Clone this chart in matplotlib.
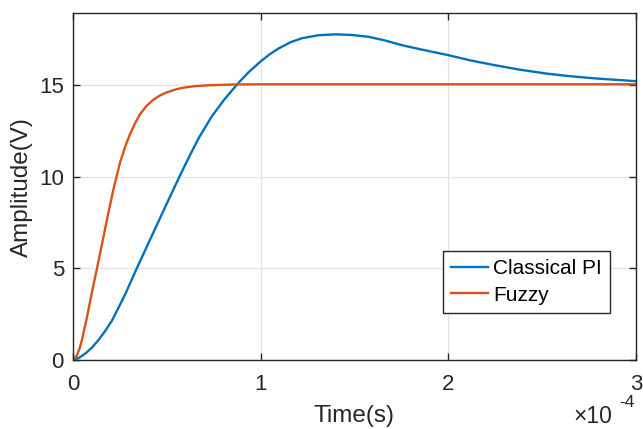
import numpy as np
import matplotlib
matplotlib.use("Agg")
import matplotlib.pyplot as plt
from matplotlib.ticker import FuncFormatter

# time in units of 1e-4 s
t_pi = [0.0, 0.033, 0.066, 0.1, 0.137, 0.17, 0.207, 0.24, 0.278, 0.34,
        0.41, 0.48, 0.567, 0.622, 0.672, 0.74, 0.805, 0.875, 0.935, 1.0,
        1.05, 1.098, 1.16, 1.222, 1.31, 1.4, 1.49, 1.577, 1.66, 1.755,
        1.87, 2.0, 2.12, 2.25, 2.38, 2.52, 2.65, 2.785, 2.9, 3.0]
y_pi = [0.0, 0.12, 0.35, 0.66, 1.1, 1.56, 2.13, 2.8, 3.58, 5.0,
        6.55, 8.1, 10.0, 11.15, 12.15, 13.3, 14.2, 15.05, 15.7, 16.3,
        16.7, 17.02, 17.35, 17.57, 17.73, 17.78, 17.74, 17.64, 17.45, 17.18,
        16.92, 16.64, 16.35, 16.09, 15.85, 15.64, 15.49, 15.37, 15.29, 15.22]

t_fz = [0.0, 0.021, 0.035, 0.048, 0.074, 0.101, 0.128, 0.158, 0.185, 0.214,
        0.25, 0.28, 0.303, 0.33, 0.356, 0.39, 0.427, 0.46, 0.498, 0.55,
        0.587, 0.65, 0.711, 0.853, 0.99, 1.5, 2.0, 2.5, 3.0]
y_fz = [0.0, 0.25, 0.62, 1.1, 2.3, 3.7, 5.0, 6.5, 7.85, 9.25,
        10.75, 11.7, 12.3, 12.9, 13.4, 13.85, 14.2, 14.42, 14.6, 14.78,
        14.86, 14.95, 14.99, 15.04, 15.05, 15.05, 15.05, 15.05, 15.05]

t_pi = np.array(t_pi) * 1e-4
t_fz = np.array(t_fz) * 1e-4

plt.rcParams['font.family'] = ['Liberation Sans', 'DejaVu Sans']
dark = "#262626"

fig = plt.figure(figsize=(6.43, 4.29), dpi=100)
ax = fig.add_axes([0.1135, 0.161, 0.8755, 0.809])

ax.plot(t_pi, y_pi, color="#0072BD", linewidth=1.7, label="Classical PI")
ax.plot(t_fz, y_fz, color="#D95319", linewidth=1.7, label="Fuzzy")

ax.set_xlim(0, 3e-4)
ax.set_ylim(0, 18.95)
ax.set_xticks([0, 1e-4, 2e-4, 3e-4])
ax.set_yticks([0, 5, 10, 15])
ax.xaxis.set_major_formatter(FuncFormatter(lambda v, p: "%g" % round(v / 1e-4, 6)))

ax.grid(True, color="#e2e2e2", linewidth=0.9)
ax.set_axisbelow(True)
for s in ax.spines.values():
    s.set_color(dark)
    s.set_linewidth(1.0)
ax.tick_params(direction="in", top=True, right=True, length=5, width=1.0,
               color=dark, labelsize=16, labelcolor=dark)
ax.tick_params(axis="x", pad=10)
ax.tick_params(axis="y", pad=6.5)

ax.set_xlabel("Time(s)", fontsize=17.5, color=dark)
ax.set_ylabel("Amplitude(V)", fontsize=17.5, color=dark)
ax.xaxis.set_label_coords(0.5, -0.13)
ax.yaxis.set_label_coords(-0.071, 0.4986)

# exponent of the x axis, as MATLAB puts it under the right end
fig.text(573 / 643, 0.003, "\u00d710", fontsize=16.5, color=dark,
         ha="left", va="bottom")
fig.text(619 / 643, 0.052, "-4", fontsize=12.5, color=dark,
         ha="left", va="baseline")

leg = ax.legend(loc="lower right", bbox_to_anchor=(0.954, 0.135), fontsize=15,
                frameon=True, fancybox=False, handlelength=1.75, handletextpad=0.25,
                borderpad=0.4, labelspacing=0.35, borderaxespad=0)
leg.get_frame().set_edgecolor(dark)
leg.get_frame().set_linewidth(1.0)
leg.get_frame().set_alpha(1.0)

fig.savefig("out.png", dpi=100)
